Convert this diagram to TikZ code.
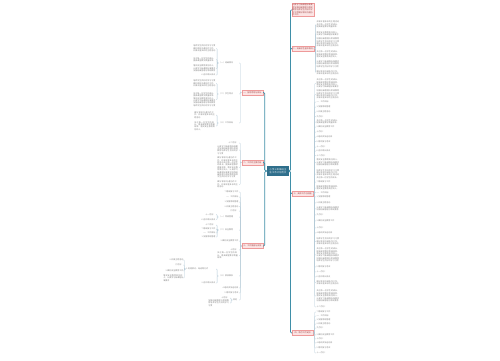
\documentclass[tikz,border=0pt]{standalone}
\usepackage{fontspec}
\setmainfont{Noto Sans CJK SC}
\XeTeXlinebreaklocale "zh"
\XeTeXlinebreakskip=0pt plus 0.5pt
\definecolor{trunk}{HTML}{3F8FA8}
\definecolor{brk}{HTML}{B3C9D6}
\definecolor{rootc}{HTML}{2F6F8C}
\definecolor{pinkf}{HTML}{FCE4E4}
\definecolor{pinkd}{HTML}{EE9A9A}
\definecolor{pinkt}{HTML}{A04848}
\definecolor{leaft}{HTML}{808080}
\newcount\frc \newcount\blc \newcount\shc
\newcommand\fr{\ifcase\frc 认真学习新课程标准要求\or 加强班级管理与常规教育\or 培养学生良好的学习习惯\or 做好家校沟通协作工作。\or 开展丰富多彩的主题活动\or 关注每一位学生的成长，\or 提高课堂教学质量效率。\or 落实安全教育责任到人，\fi\global\advance\frc1 \ifnum\frc>7 \global\frc=0 \fi}
\newcommand\blk[1]{\blc=#1 \loop\fr\advance\blc-1 \ifnum\blc>0 \repeat}
\newcommand\sh{\ifcase\shc 一、工作目标\or 1.加强常规管理\or 2.开展主题活动\or 九月份：\or 3.做好安全教育工作\or 十月份：\or 4.组织参加运动会\or 5.期中复习考试\or 十一月份：\or 6.召开家长会议\or 十二月份：\or 7.期末复习工作\fi\global\advance\shc1 \ifnum\shc>11 \global\shc=0 \fi}
\tikzset{
 root/.style={fill=rootc, text=white, font=\fontsize{2.2}{2.8}\selectfont, text width=20pt, align=center, inner sep=1pt, minimum height=10pt},
 br/.style={fill=pinkf, draw=pinkd, line width=0.3pt, text=pinkt, font=\fontsize{2}{2.5}\selectfont, inner sep=0.8pt, minimum width=21pt, minimum height=5pt},
 lf/.style={text=leaft, font=\fontsize{2}{2.4}\selectfont, inner sep=0.4pt, align=left},
 lfR/.style={lf, anchor=west},
 lfL/.style={lf, anchor=east},
 subL/.style={lfL, text width=19.2pt},
 tr/.style={draw=trunk, line width=0.7pt, rounded corners=1.2pt},
 bk/.style={draw=brk, line width=0.35pt, rounded corners=0.6pt},
}
% #1 parent, #2 prefix, #3 list y/lines
\newcommand\rleaves[3]{\foreach \y/\n [count=\i] in {#3}{%
 \ifnum\n=1 \node[lfR] (#2\i) at (316,\y) {\sh};%
 \else \node[lfR,text width=23pt] (#2\i) at (316,\y) {\blk{\n}};\fi
 \draw[bk] (#1.east) -- ++(1.5,0) |- (#2\i.west);}}
% #1 parent, #2 prefix, #3 x of east, #4 text width, #5 list
\newcommand\lleaves[5]{\foreach \y/\n [count=\i] in {#5}{%
 \ifnum\n=1 \node[lfL] (#2\i) at (#3,\y) {\sh};%
 \else \node[lfL,text width=#4] (#2\i) at (#3,\y) {\blk{\n}};\fi
 \draw[bk] (#1.west) -- ++(-1.5,0) |- (#2\i.east);}}
\begin{document}
\begin{tikzpicture}[x=1pt,y=-1pt]
\useasboundingbox (0,0) rectangle (500,360);
% root
\node[root] (root) at (278,171) {小学三年级班主任工作计划范文};
% right branches
\node[br,anchor=north west,text width=20.5pt,align=left,minimum width=0pt] (R0) at (291.5,3) {\blk{4}};
\node[br,anchor=west] (R1) at (292,48.5) {二、班级学生基本情况};
\node[br,anchor=west] (R2) at (292,193.5) {三、具体工作与措施};
\node[br,anchor=west] (R3) at (292,333) {四、每月工作安排};
% left branches
\node[br,anchor=east] (L1) at (263,92.5) {一、指导思想与目标};
\node[br,anchor=east] (L2) at (263,162.5) {二、工作的主要内容};
\node[br,anchor=east] (L3) at (263,246) {三、工作措施与安排};
% trunks
\foreach \b in {L1,L2,L3} \draw[tr] (root.west) -- ++(-2,0) |- (\b.east);
\foreach \b in {R0,R1,R2,R3} \draw[tr] (root.east) -- ++(1.2,0) |- (\b.west);
% right leaves
\rleaves{R1}{ra}{24.5/3,33.5/2,42.5/4,54.5/3,64/3,72.5/2}
\rleaves{R2}{rb}{83.5/4,94.5/4,102/1,107/1,112/1,116.5/1,122/2,127/1,132/1,137/1,141.5/1,147/1,151/1,155.5/1,162.5/3,174/4,182/1,188/2,192.5/1,197/1,203/1,209/2,215/1,221/1,228/1,233/1,241.5/3,255/6,267/1,272/1,277/1,282.5/2,296/5,307/1}
\rleaves{R3}{rc}{312/1,316/1,320/1,324/1,328/1,335/1,339/1,343/1,348/1,353/1}
% L1 sub nodes
\node[subL] (s1) at (239,63) {（一）班级情况};
\node[subL] (s2) at (239,94) {（二）学生特点};
\node[subL] (s3) at (239,123) {（三）工作目标};
\foreach \s in {s1,s2,s3} \draw[bk] (L1.west) -- ++(-1.5,0) |- (\s.east);
\lleaves{s1}{sa}{216}{22pt}{48.5/3,59.5/2,68.5/3,75/1}
\lleaves{s2}{sb}{216}{22pt}{83.5/3,99.5/6}
\lleaves{s3}{sc}{216}{21pt}{115/2,126/3}
% L2 leaves
\lleaves{L2}{la}{239}{21pt}{143/1,150/3,167.5/8,184.5/2}
% L3 leaves
\lleaves{L3}{lb}{239}{21pt}{192/1,197/1,202/1,206.5/1,211/1,241/1,250/1,255.5/2,288/1,293/1}
\node[subL] (ta) at (239,217) {（一）常规管理};
\node[subL] (tb) at (239,230) {（二）安全教育};
\node[subL] (tc) at (239,276) {（三）家校联系};
\node[lfL,text width=5.2pt] (td) at (239,300) {其他};
\foreach \s in {ta,tb,tc,td} \draw[bk] (L3.west) -- ++(-1.5,0) |- (\s.east);
\lleaves{ta}{ua}{216}{18pt}{214.5/1,219.5/1}
\lleaves{tb}{ub}{216}{18pt}{225/1,229/1,233/1,237/1}
\node[lfL,text width=29pt] (c1) at (216,269) {1.利用家访、电话等方式};
\node[lfL] (c2) at (216,283) {2.召开家长会议};
\foreach \s in {c1,c2} \draw[bk] (tc.west) -- ++(-1.5,0) |- (\s.east);
\lleaves{c1}{uc}{184}{20pt}{260/1,265/1,271/1,278/2}
\lleaves{td}{ud}{230}{21pt}{298/1,303/2}
\end{tikzpicture}
\end{document}
